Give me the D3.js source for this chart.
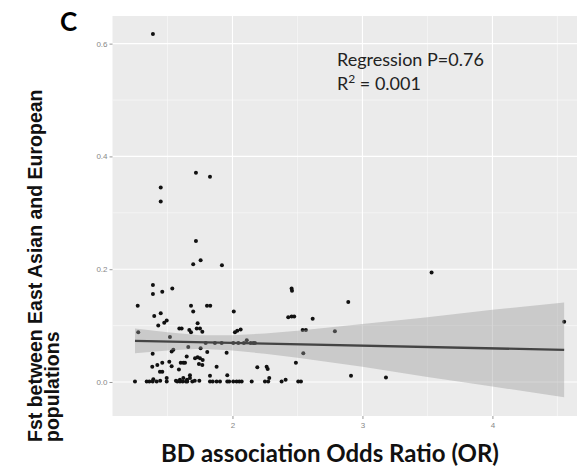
<!DOCTYPE html>
<html>
<head>
<meta charset="utf-8">
<script src="https://cdn.jsdelivr.net/npm/d3@7"></script>
<style>
  body { margin: 0; background: #fff; }
  svg { display: block; }
</style>
</head>
<body>
<script>
// odds ratio (x) and Fst (y) for each SNP
const orValues = [
  1.388, 1.448, 1.448, 1.719, 1.827, 1.719, 1.755, 1.698, 1.919, 3.532,
  2.455, 2.458, 1.388, 1.388, 1.460, 1.537, 2.891, 1.271, 1.681, 1.804,
  1.829, 1.698, 2.010, 1.398, 1.448, 2.429, 2.455, 2.475, 2.617, 1.429,
  1.475, 1.494, 1.591, 1.609, 1.732, 1.668, 1.681, 1.725, 1.750, 1.768,
  1.275, 1.519, 2.019, 2.037, 2.063, 2.540, 2.565, 2.788, 1.794, 1.865,
  1.917, 2.006, 2.045, 2.088, 2.110, 2.140, 2.160, 2.173, 1.386, 1.532,
  1.545, 1.660, 1.755, 1.806, 1.955, 2.545, 1.648, 1.712, 1.732, 1.750,
  1.771, 1.742, 1.768, 1.514, 1.602, 1.622, 1.635, 1.460, 1.422, 1.383,
  2.488, 1.532, 1.878, 2.191, 2.263, 2.271, 1.588, 1.460, 1.442, 1.673,
  1.827, 1.960, 2.912, 3.181, 1.494, 1.391, 1.596, 1.622, 1.650, 1.673,
  2.283, 2.409, 1.250, 1.340, 1.360, 1.386, 1.417, 1.494, 1.575, 1.596,
  1.617, 1.642, 1.652, 1.691, 1.827, 1.848, 1.878, 1.904, 1.960, 1.975,
  2.006, 2.032, 2.052, 2.071, 2.148, 2.250, 2.275, 2.378, 2.506, 2.527,
  4.552, 1.444, 1.565, 1.710, 1.745
];
const fstValues = [
  0.617, 0.345, 0.320, 0.371, 0.364, 0.250, 0.216, 0.209, 0.207, 0.194,
  0.166, 0.162, 0.172, 0.156, 0.160, 0.166, 0.142, 0.135, 0.135, 0.135,
  0.135, 0.125, 0.125, 0.117, 0.122, 0.115, 0.116, 0.116, 0.112, 0.100,
  0.105, 0.109, 0.095, 0.095, 0.104, 0.092, 0.088, 0.095, 0.095, 0.089,
  0.088, 0.080, 0.088, 0.091, 0.093, 0.092, 0.092, 0.090, 0.069, 0.069,
  0.069, 0.069, 0.069, 0.069, 0.074, 0.069, 0.069, 0.069, 0.050, 0.054,
  0.057, 0.062, 0.060, 0.053, 0.052, 0.051, 0.045, 0.042, 0.044, 0.042,
  0.039, 0.032, 0.030, 0.036, 0.034, 0.034, 0.034, 0.034, 0.030, 0.027,
  0.034, 0.028, 0.027, 0.026, 0.027, 0.023, 0.022, 0.018, 0.018, 0.012,
  0.011, 0.012, 0.011, 0.008, 0.007, 0.005, 0.004, 0.007, 0.004, 0.007,
  0.007, 0.004, 0.001, 0.001, 0.001, 0.001, 0.001, 0.001, 0.001, 0.001,
  0.001, 0.001, 0.001, 0.001, 0.001, 0.001, 0.001, 0.001, 0.001, 0.001,
  0.001, 0.001, 0.001, 0.001, 0.001, 0.001, 0.001, 0.001, 0.001, 0.001,
  0.107, 0.002, 0.002, 0.002, 0.002
];

// linear fit and its confidence band, as drawn
const fitX = [1.25, 4.552];
const fitY = [0.073, 0.057];
const bandX = [1.25, 1.5, 1.75, 2.0, 2.25, 2.5, 3.0, 3.5, 4.0, 4.552];
const bandLow = [0.051, 0.056, 0.059, 0.056, 0.050, 0.043, 0.027, 0.009, -0.008, -0.027];
const bandHigh = [0.095, 0.088, 0.083, 0.083, 0.086, 0.091, 0.103, 0.115, 0.128, 0.141];

const xTicks = [2, 3, 4];
const xMinor = [1.5, 2.5, 3.5, 4.5];
const yTicks = [0, 0.2, 0.4, 0.6];
const yMinor = [0.1, 0.3, 0.5];

const width = 577, height = 472;
const panel = { left: 112.5, top: 16, right: 586, bottom: 416 };

const svg = d3.select("body").append("svg")
  .attr("width", width)
  .attr("height", height);

const x = d3.scaleLinear().domain([1.077, 4.72]).range([panel.left, panel.right]);
const y = d3.scaleLinear().domain([-0.0603, 0.649]).range([panel.bottom, panel.top]);

// panel background
svg.append("rect")
  .attr("x", panel.left).attr("y", panel.top)
  .attr("width", panel.right - panel.left)
  .attr("height", panel.bottom - panel.top)
  .attr("fill", "#ebebeb");

const grid = svg.append("g");
grid.selectAll(".xminor").data(xMinor).join("line")
  .attr("x1", d => x(d)).attr("x2", d => x(d))
  .attr("y1", panel.top).attr("y2", panel.bottom)
  .attr("stroke", "#fafafa").attr("stroke-width", 0.6);
grid.selectAll(".yminor").data(yMinor).join("line")
  .attr("y1", d => y(d)).attr("y2", d => y(d))
  .attr("x1", panel.left).attr("x2", panel.right)
  .attr("stroke", "#fafafa").attr("stroke-width", 0.6);
grid.selectAll(".xmajor").data(xTicks).join("line")
  .attr("x1", d => x(d)).attr("x2", d => x(d))
  .attr("y1", panel.top).attr("y2", panel.bottom)
  .attr("stroke", "#fff").attr("stroke-width", 1.1);
grid.selectAll(".ymajor").data(yTicks).join("line")
  .attr("y1", d => y(d)).attr("y2", d => y(d))
  .attr("x1", panel.left).attr("x2", panel.right)
  .attr("stroke", "#fff").attr("stroke-width", 1.1);

// points
const pts = orValues.map((v, i) => [v, fstValues[i]]);
svg.append("g").selectAll("circle").data(pts).join("circle")
  .attr("cx", d => x(d[0]))
  .attr("cy", d => y(d[1]))
  .attr("r", 2)
  .attr("fill", "#111");

// confidence band on top of the points (alpha like ggplot)
const band = bandX.map((v, i) => [v, bandLow[i], bandHigh[i]]);
svg.append("path")
  .datum(band)
  .attr("fill", "#999")
  .attr("fill-opacity", 0.4)
  .attr("d", d3.area()
    .x(d => x(d[0]))
    .y0(d => y(d[1]))
    .y1(d => y(d[2])));

svg.append("path")
  .datum(fitX.map((v, i) => [v, fitY[i]]))
  .attr("fill", "none")
  .attr("stroke", "#444")
  .attr("stroke-width", 2.4)
  .attr("d", d3.line().x(d => x(d[0])).y(d => y(d[1])));

// axes
const xAxis = svg.append("g")
  .attr("transform", `translate(0,${panel.bottom})`)
  .call(d3.axisBottom(x).tickValues(xTicks).tickSize(3).tickPadding(3).tickFormat(d3.format("d")));
const yAxis = svg.append("g")
  .attr("transform", `translate(${panel.left},0)`)
  .call(d3.axisLeft(y).tickValues(yTicks).tickSize(3).tickPadding(2).tickFormat(d3.format(".1f")));
[xAxis, yAxis].forEach(g => {
  g.select(".domain").remove();
  g.selectAll(".tick line").attr("stroke", "#999");
  g.selectAll(".tick text")
    .attr("fill", "#888")
    .style("font-family", "'Liberation Sans', Arial, sans-serif")
    .style("font-size", "8px");
});

// panel letter
svg.append("text")
  .attr("x", 60).attr("y", 31)
  .style("font-family", "Lato, sans-serif")
  .style("font-weight", "bold")
  .style("font-size", "26px")
  .attr("fill", "#000")
  .text("C");

// regression annotation
const ann = svg.append("g")
  .style("font-family", "Lato, sans-serif")
  .style("font-size", "18px")
  .attr("fill", "#222");
ann.append("text").attr("x", 337).attr("y", 66).text("Regression P=0.76");
const r2 = ann.append("text").attr("x", 337).attr("y", 90);
r2.append("tspan").text("R");
r2.append("tspan").attr("dy", -7).style("font-size", "12px").text("2");
r2.append("tspan").attr("dy", 7).text(" = 0.001");

// axis titles
svg.append("text")
  .attr("x", 330).attr("y", 462)
  .attr("text-anchor", "middle")
  .style("font-family", "Lato, sans-serif")
  .style("font-weight", "bold")
  .style("font-size", "24px")
  .attr("fill", "#111")
  .text("BD association Odds Ratio (OR)");

const yTitle = svg.append("g")
  .style("font-family", "'Liberation Sans', Arial, sans-serif")
  .style("font-weight", "bold")
  .style("font-size", "19.5px")
  .attr("fill", "#111");
yTitle.append("text")
  .attr("transform", "translate(42,442) rotate(-90)")
  .text("Fst between East Asian and European");
yTitle.append("text")
  .attr("transform", "translate(59,442) rotate(-90)")
  .text("populations");
</script>
</body>
</html>
